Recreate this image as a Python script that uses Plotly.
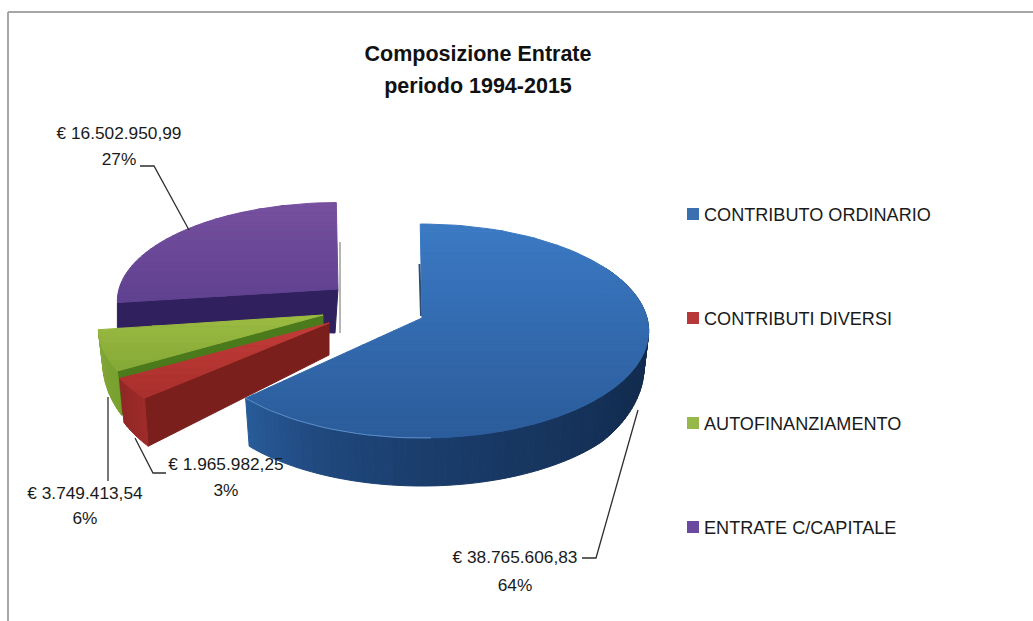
import math
import plotly.graph_objects as go

# ---- data ----
categories = ["CONTRIBUTO ORDINARIO", "CONTRIBUTI DIVERSI", "AUTOFINANZIAMENTO", "ENTRATE C/CAPITALE"]
values = [38765606.83, 1965982.25, 3749413.54, 16502950.99]
amount_labels = ["€ 38.765.606,83", "€ 1.965.982,25", "€ 3.749.413,54", "€ 16.502.950,99"]
percent_labels = ["64%", "3%", "6%", "27%"]
title_lines = ["Composizione Entrate", "periodo 1994-2015"]

# ---- drawing style / layout ----
FONT = "Liberation Sans"
W, H = 1033, 621
K = 0.1217
APEX = [(422, 318), (329, 323), (323, 315), (338, 289)]
RADII = [(225, 105.4), (227, 104), (223, 105), (219, 97)]
TOP_GRAD = [("#3b79c4", "#2b5c9a"), ("#c23c38", "#a92f2c"), ("#9cbc42", "#85a836"), ("#76509f", "#5f4190")]
RADIAL_WALL = [None, "#7b1f1c", "#4b7a1c", "#30205e"]
ARC_WALL = [
    [(60, "#112a4c"), (120, "#122c50"), (180, "#1a3d6c"), (205, "#20497f"), (230, "#295f9e")],
    [(225, "#a12c2a"), (245, "#8c2523")],
    [(238, "#76a02c"), (265, "#86a83c")],
    None,
]
LEGEND_COL = ["#3a6fb0", "#b8383a", "#96b84a", "#6a4a9e"]
LEGEND_Y = [216, 320, 425, 529]
LEGEND_MARK_X, LEGEND_TEXT_X = 693, 704
END_TRIM = [2.5, 0, 0, 0]
LABEL_POS = [(515, 559, 587), (226, 466, 492), (85, 495, 520), (119, 135, 161)]
LEADERS = [
    [(582, 558), (596, 558), (638, 410)],
    [(135, 438), (153, 473), (166, 473)],
    [(108, 397), (108, 481)],
    [(140, 166), (154, 166), (189, 230)],
]


def hex2rgb(c):
    return tuple(int(c[i:i + 2], 16) for i in (1, 3, 5))


def mix(a, b, t):
    ra, rb = hex2rgb(a), hex2rgb(b)
    return "#%02x%02x%02x" % tuple(round(x + (y - x) * t) for x, y in zip(ra, rb))


def ramp(stops, th):
    if th <= stops[0][0]:
        return stops[0][1]
    for (a, ca), (b, cb) in zip(stops, stops[1:]):
        if th <= b:
            return mix(ca, cb, (th - a) / (b - a))
    return stops[-1][1]


def project(i, th):
    t = math.radians(th)
    u, v = math.sin(t), -math.cos(t)
    w = 1 - K * v
    return APEX[i][0] + RADII[i][0] * u / w, APEX[i][1] + RADII[i][1] * v / w


def depth(th):
    v = -math.cos(math.radians(th))
    return 32 + 16 * min(1, max(0, v) / 0.66)


def drop(i, th):
    x, y = project(i, th)
    return x + (APEX[i][0] - x) * 0.02, y + depth(th)


def clip(poly, y0, y1):
    def cut(p, keep, at):
        out = []
        for a, b in zip(p, p[1:] + p[:1]):
            if keep(a):
                out.append(a)
            if keep(a) != keep(b):
                s = (at - a[1]) / (b[1] - a[1])
                out.append((a[0] + (b[0] - a[0]) * s, at))
        return out
    p = cut(poly, lambda q: q[1] >= y0, y0)
    return cut(p, lambda q: q[1] <= y1, y1) if p else p


fig = go.Figure()


def fill(pts, color, name=None):
    xs = [p[0] for p in pts] + [pts[0][0]]
    ys = [p[1] for p in pts] + [pts[0][1]]
    fig.add_trace(go.Scatter(x=xs, y=ys, mode="lines", fill="toself", fillcolor=color,
                             line=dict(color=color, width=1), hoverinfo="skip",
                             showlegend=False, name=name))


def line(pts, color, width=1.3):
    fig.add_trace(go.Scatter(x=[p[0] for p in pts], y=[p[1] for p in pts], mode="lines",
                             line=dict(color=color, width=width), hoverinfo="skip", showlegend=False))


# angular extent of every slice, from the values
total = sum(values)
spans = []
start = -0.5
for val in values:
    end = start + val / total * 360
    spans.append((start, end))
    start = end


def arc(a, b, step=2.0):
    n = max(2, int(abs(b - a) / step))
    return [a + (b - a) * k / n for k in range(n + 1)]


# soft shadows next to the back edges
line([(340, 242), (340, 333)], "#b5b5b5", 2)
line([(419.5, 264), (421, 316)], "#2f4d72", 2)

for i in [3, 2, 1, 0]:
    a, b = spans[i]
    b -= END_TRIM[i]
    ap = APEX[i]
    # straight wall
    if RADIAL_WALL[i]:
        if i == 3:
            ox, oy = project(i, a)
            fill([ap, (ox, oy), (ox, oy + 25), (ap[0] - 3, ap[1] + 44)], RADIAL_WALL[i])
        else:
            ox, oy = project(i, a)
            dx, dy = drop(i, a)
            fill([ap, (ox, oy), (dx, dy), (ap[0], ap[1] + 32)], RADIAL_WALL[i])
    # curved wall
    if ARC_WALL[i]:
        lo = max(a, 60)
        ts = arc(lo, b, 1.5)
        for t0, t1 in zip(ts, ts[1:]):
            fill([project(i, t0), project(i, t1), drop(i, t1), drop(i, t0)],
                 ramp(ARC_WALL[i], (t0 + t1) / 2))
    # top face, shaded in horizontal bands
    poly = [ap] + [project(i, t) for t in arc(a, b)]
    ymin, ymax = min(p[1] for p in poly), max(p[1] for p in poly)
    bands = 30 if i in (0, 3) else 10
    for k in range(bands):
        y0 = ymin + (ymax - ymin) * k / bands
        y1 = ymin + (ymax - ymin) * (k + 1) / bands
        part = clip(poly, y0, y1)
        if len(part) >= 3:
            fill(part, mix(TOP_GRAD[i][0], TOP_GRAD[i][1], (k + 0.5) / bands))
    if i == 0:
        line([project(0, t) for t in arc(178, b)], "#5a8cc6", 1)

# leader lines
for pts in LEADERS:
    line(pts, "#2e2e2e", 1.3)

# data labels
for i in range(4):
    xc, y1, y2 = LABEL_POS[i]
    fig.add_trace(go.Scatter(x=[xc, xc], y=[y1, y2], mode="text",
                             text=[amount_labels[i], percent_labels[i]], textposition="middle center",
                             textfont=dict(family=FONT, size=17.3, color="#1a1a1a"),
                             hoverinfo="skip", showlegend=False))

# legend
for i, cat in enumerate(categories):
    fig.add_trace(go.Scatter(x=[LEGEND_MARK_X], y=[LEGEND_Y[i] - 2], mode="markers",
                             marker=dict(symbol="square", size=12, color=LEGEND_COL[i]),
                             hoverinfo="skip", showlegend=False, name=cat))
    fig.add_trace(go.Scatter(x=[LEGEND_TEXT_X], y=[LEGEND_Y[i]], mode="text", text=[cat],
                             textposition="middle right",
                             textfont=dict(family=FONT, size=18.1, color="#1a1a1a"),
                             hoverinfo="skip", showlegend=False))

# title
fig.add_trace(go.Scatter(x=[478, 478], y=[56, 88], mode="text",
                         text=["<b>%s</b>" % s for s in title_lines], textposition="middle center",
                         textfont=dict(family=FONT, size=21.5, color="#111111"),
                         hoverinfo="skip", showlegend=False))

# frame
fig.add_shape(type="line", x0=8, x1=8, y0=12, y1=H, line=dict(color="#a6a6a6", width=2))
fig.add_shape(type="line", x0=8, x1=W, y0=12, y1=12, line=dict(color="#a6a6a6", width=2))

fig.update_layout(
    width=W, height=H, margin=dict(l=0, r=0, t=0, b=0), autosize=False,
    paper_bgcolor="white", plot_bgcolor="white", showlegend=False,
    xaxis=dict(range=[0, W], visible=False, fixedrange=True),
    yaxis=dict(range=[H, 0], visible=False, fixedrange=True),
)
fig.write_html("out.html", config={"displayModeBar": False},
               post_script="document.body.style.margin='0';document.body.style.overflow='hidden';")
